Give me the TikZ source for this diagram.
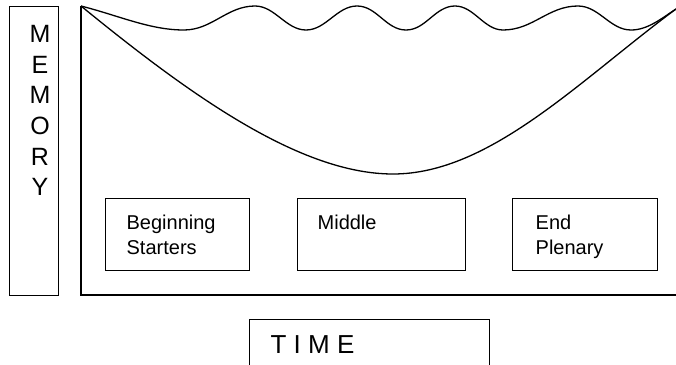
\documentclass[tikz,border=0pt]{standalone}
\usepackage{fontspec}
\setmainfont{Liberation Sans}
\begin{document}
\begin{tikzpicture}[x=1pt,y=-1pt,line width=1.3pt,
  boxstyle/.style={draw,line width=1.3pt,anchor=north west,inner sep=0pt},
  boxtext/.style={anchor=base west,inner sep=0pt,align=left,font=\fontsize{20}{25}\selectfont}]
\useasboundingbox (0,0) rectangle (676,364);
\clip (0,0) rectangle (676,364);
% memory box
\node[boxstyle,minimum width=49pt,minimum height=289pt] (membox) at (9,6) {};
\node[inner sep=0pt,align=center,font=\fontsize{25}{30.6}\selectfont] (memtext) at (40,110.5) {M\\E\\M\\O\\R\\Y};
% frame
\coordinate (corner) at (81,6);
\coordinate (frameb) at (81,295);
\coordinate (framer) at (676,295);
\coordinate (endpt) at (676,9);
\draw (corner) -- (frameb) -- (framer);
% wavy line
\draw (corner) .. controls (120,16) and (150,30) .. (184,30)
  .. controls (212,30) and (227,6) .. (255,6)
  .. controls (275,6) and (286,30) .. (306,30)
  .. controls (326,30) and (337,6) .. (357,6)
  .. controls (377,6) and (386,30) .. (406,30)
  .. controls (426,30) and (435,6) .. (455,6)
  .. controls (474,6) and (484,30) .. (503,30)
  .. controls (533,30) and (548,6) .. (578,6)
  .. controls (599,6) and (610,30) .. (631,30)
  .. controls (648,30) and (662,18) .. (endpt);
% U curve
\draw (corner) .. controls (190,95) and (300,174) .. (393,174)
  .. controls (490,174) and (580,80) .. (endpt);
% phase boxes
\node[boxstyle,minimum width=144pt,minimum height=72pt] (begbox) at (105,198) {};
\node[boxtext] (begtext) at (126,254) {Beginning\\Starters};
\node[boxstyle,minimum width=168pt,minimum height=72pt] (midbox) at (297,198) {};
\node[boxtext] (midtext) at (317,229) {Middle};
\node[boxstyle,minimum width=145pt,minimum height=72pt] (endbox) at (512,198) {};
\node[boxtext] (endtext) at (535,254) {End\\Plenary};
% time box
\node[boxstyle,minimum width=240pt,minimum height=70pt] (timebox) at (249,319) {};
\node[anchor=base west,inner sep=0pt,font=\fontsize{26}{30}\selectfont] (timetext) at (270,353) {T I M E};
\end{tikzpicture}
\end{document}
